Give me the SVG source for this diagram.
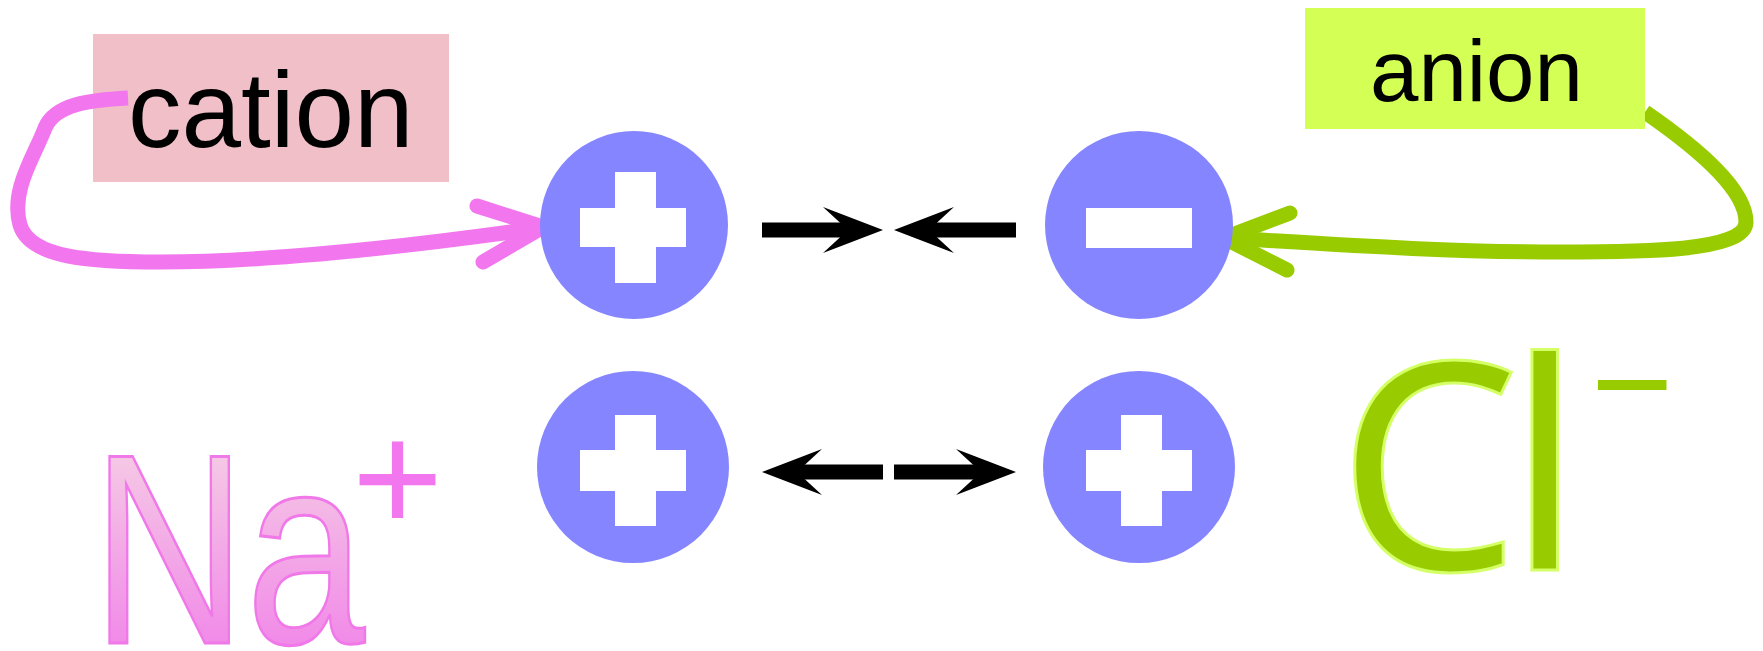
<svg xmlns="http://www.w3.org/2000/svg" width="1763" height="651" viewBox="0 0 1763 651">
<style>
.ion{fill:#8585ff}
.sign{fill:#ffffff}
.lbl{font-family:"Liberation Sans",Arial,sans-serif;fill:#000000}
.pk{fill:none;stroke:#f277ee;stroke-width:15}
.gr{fill:none;stroke:#99cc00;stroke-width:15}
.bk{fill:none;stroke:#000000;stroke-width:15}
.wing{stroke-linecap:round;stroke-linejoin:miter;stroke-miterlimit:10}
</style>
<defs>
<marker id="bhead" markerUnits="userSpaceOnUse" viewBox="0 0 60 46" markerWidth="60" markerHeight="46" refX="39" refY="23" orient="auto">
<path d="M0,0 L60,23 L0,46 L25,23 Z" fill="#000000"/>
</marker>
<linearGradient id="naGrad" x1="0" y1="0" x2="0" y2="1">
<stop offset="0" stop-color="#f6dbe4"/>
<stop offset="1" stop-color="#f078e9"/>
</linearGradient>
</defs>
<rect width="1763" height="651" fill="#ffffff"/>
<g id="cation-label">
<rect x="93" y="34" width="356" height="148" fill="#f0bfc7"/>
<text class="lbl" x="128" y="147" font-size="107">cation</text>
</g>
<g id="connectors">
<path class="pk" d="M128,98 C90,100 55,104 45,128 C35,155 10,190 20,225 C30,258 90,262 160,262 C280,262 420,245 540,228"/>
<path class="pk wing" d="M477,206 L543,227 L483,262"/>
<path class="gr" d="M1645,112 C1700,150 1746,190 1746,222 C1746,252 1640,252 1560,252 C1440,252 1330,244 1228,238"/>
<path class="gr wing" d="M1290,213 L1224,238 L1287,270"/>
<path class="bk" d="M762,230 L862,230" marker-end="url(#bhead)"/>
<path class="bk" d="M1016,230 L915,230" marker-end="url(#bhead)"/>
<path class="bk" d="M883,472 L783,472" marker-end="url(#bhead)"/>
<path class="bk" d="M894,472 L995,472" marker-end="url(#bhead)"/>
</g>
<g id="anion-label">
<rect x="1305" y="8" width="340" height="121" fill="#d4ff55"/>
<text class="lbl" x="1370" y="101" font-size="87">anion</text>
</g>
<g id="cation-top">
<circle class="ion" cx="634" cy="225" r="94"/>
<rect class="sign" x="580" y="208" width="106" height="39"/>
<rect class="sign" x="615" y="172" width="41" height="111"/>
</g>
<g id="anion-top">
<circle class="ion" cx="1139" cy="225" r="94"/>
<rect class="sign" x="1086" y="208" width="106" height="40"/>
</g>
<g id="cation-bottom-left">
<circle class="ion" cx="633" cy="467" r="96"/>
<rect class="sign" x="580" y="450" width="106" height="41"/>
<rect class="sign" x="615" y="415" width="41" height="111"/>
</g>
<g id="cation-bottom-right">
<circle class="ion" cx="1139" cy="467" r="96"/>
<rect class="sign" x="1086" y="450" width="106" height="41"/>
<rect class="sign" x="1121" y="415" width="41" height="111"/>
</g>
<g id="na-ion">
<text x="92" y="643" font-family="Liberation Sans, Arial, sans-serif" font-size="271" textLength="273" lengthAdjust="spacingAndGlyphs" fill="url(#naGrad)" stroke="#f078e9" stroke-width="3">Na</text>
<text x="352" y="532" font-family="Liberation Sans, Arial, sans-serif" font-size="156" fill="#f277ee">+</text>
</g>
<g id="cl-ion">
<text x="1337" y="570" font-family="Noto Sans, Open Sans, sans-serif" font-size="290" letter-spacing="-13" fill="#99cc00" stroke="#d4ff66" stroke-width="3">Cl</text>
<text x="1591" y="432" font-family="Liberation Sans, Arial, sans-serif" font-size="141" fill="#99cc00">−</text>
</g>
</svg>
